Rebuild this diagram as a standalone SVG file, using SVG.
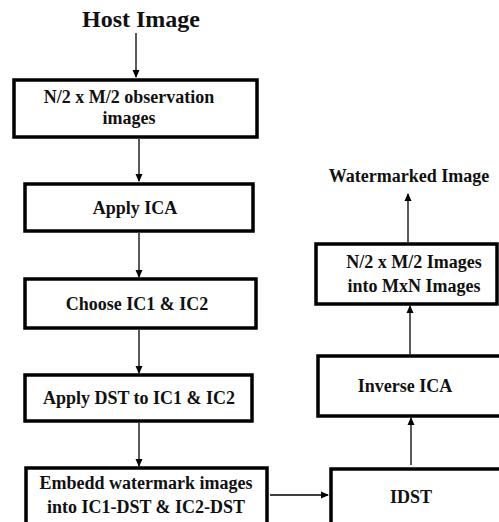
<svg xmlns="http://www.w3.org/2000/svg" width="499" height="522" viewBox="0 0 499 522">
<defs>
<marker id="ah" markerWidth="8" markerHeight="8" refX="7" refY="4" orient="auto" markerUnits="userSpaceOnUse">
<path d="M0,0.5 L8,4 L0,7.5 Z" fill="#000"/>
</marker>
</defs>
<style>
.box{fill:#fff;stroke:#000;stroke-width:3.5}
.t{font-family:"Liberation Serif","Times New Roman",serif;font-weight:bold;font-size:18px;fill:#111;text-anchor:middle}
.c{stroke:#000;stroke-width:1.3;fill:none;marker-end:url(#ah)}
</style>
<rect width="499" height="522" fill="#fff"/>
<g id="host"><text class="t" x="141" y="27" style="font-size:24px">Host Image</text></g>
<g id="n1"><rect class="box" x="14" y="80" width="243" height="57"/>
<text class="t" x="129" y="103">N/2 x M/2 observation</text>
<text class="t" x="129" y="124">images</text></g>
<g id="n2"><rect class="box" x="25" y="184" width="228" height="47"/>
<text class="t" x="135" y="214">Apply ICA</text></g>
<g id="n3"><rect class="box" x="25" y="279" width="231" height="49"/>
<text class="t" x="137" y="310">Choose IC1 &amp; IC2</text></g>
<g id="n4"><rect class="box" x="25" y="375" width="227" height="46"/>
<text class="t" x="139" y="404">Apply DST to IC1 &amp; IC2</text></g>
<g id="n5"><rect class="box" x="26" y="468" width="241" height="60"/>
<text class="t" x="146" y="489">Embedd watermark images</text>
<text class="t" x="146" y="513">into IC1-DST &amp; IC2-DST</text></g>
<g id="n6"><rect class="box" x="331" y="469" width="180" height="60"/>
<text class="t" x="411" y="503">IDST</text></g>
<g id="n7"><rect class="box" x="318" y="356" width="190" height="60"/>
<text class="t" x="405" y="392">Inverse ICA</text></g>
<g id="n8"><rect class="box" x="316" y="244" width="181" height="60"/>
<text class="t" x="414" y="268">N/2 x M/2 Images</text>
<text class="t" x="414" y="292">into MxN Images</text></g>
<g id="out"><text class="t" x="409" y="182">Watermarked Image</text></g>
<g id="connectors">
<line class="c" x1="136" y1="33" x2="136" y2="77"/>
<line class="c" x1="139" y1="139" x2="139" y2="181"/>
<line class="c" x1="139" y1="233" x2="139" y2="277"/>
<line class="c" x1="139" y1="330" x2="139" y2="373"/>
<line class="c" x1="139" y1="423" x2="139" y2="466"/>
<line class="c" x1="270" y1="495" x2="328" y2="495"/>
<line class="c" x1="411" y1="465" x2="411" y2="418"/>
<line class="c" x1="410" y1="354" x2="410" y2="306"/>
<line class="c" x1="408" y1="242" x2="408" y2="194"/>
</g>
</svg>
